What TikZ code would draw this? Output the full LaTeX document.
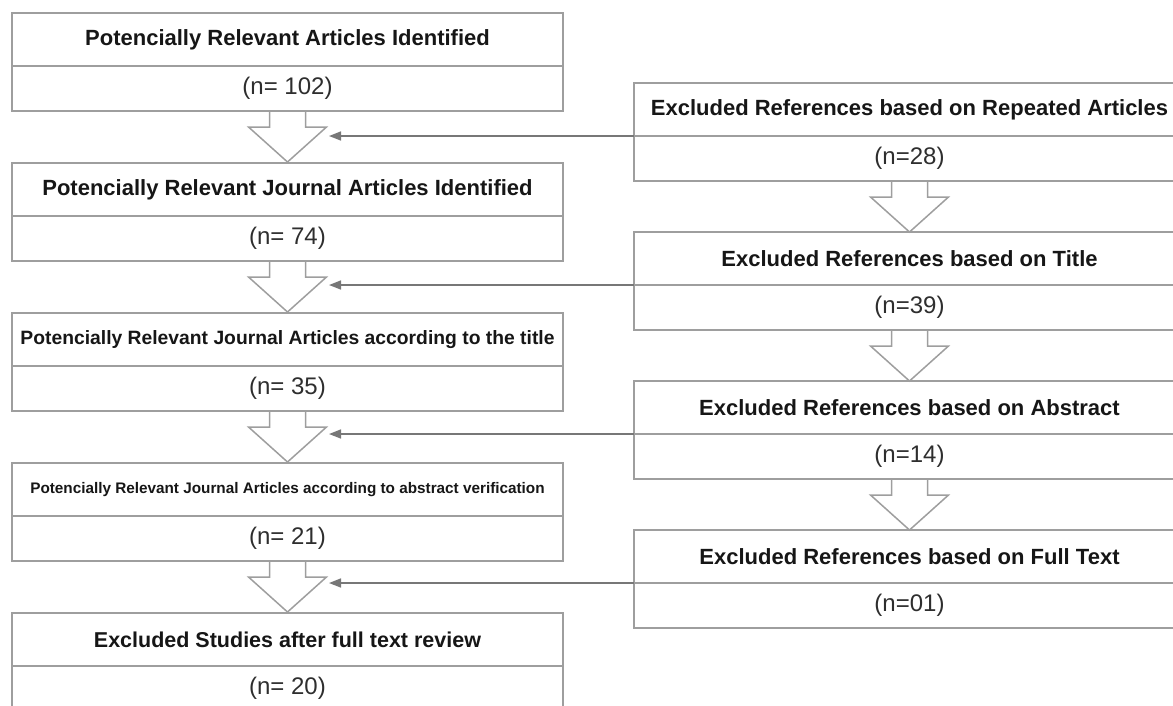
\documentclass[tikz,border=0pt]{standalone}
\usepackage{fontspec}
\setmainfont{Liberation Sans}
\usetikzlibrary{positioning,arrows.meta}
\definecolor{boxgray}{HTML}{9E9E9E}
\definecolor{linegray}{HTML}{777777}
\definecolor{numgray}{HTML}{2E2E2E}
\definecolor{headblack}{HTML}{161616}
\tikzset{
  head/.style={draw=boxgray, line width=1.6pt, outer sep=0pt, inner sep=0pt,
    minimum width=551pt, minimum height=53pt, text=headblack,
    font=\bfseries\fontsize{22}{26}\selectfont},
  count/.style={draw=boxgray, line width=1.6pt, outer sep=0pt, inner sep=0pt,
    minimum width=551pt, minimum height=45pt, text=numgray,
    font=\fontsize{24}{28}\selectfont},
  feed/.style={draw=linegray, line width=1.5pt, -{Triangle[length=12pt,width=9pt]}},
  downarrow/.pic={
    \draw[boxgray, line width=1.5pt, line join=miter]
      (-18,0) -- (-18,16) -- (-39,16) -- (0,51) -- (39,16) -- (18,16) -- (18,0);
  }
}

\begin{document}
\begin{tikzpicture}[x=1pt,y=-1pt]
   \useasboundingbox (0,0) rectangle (1173,705);
   \clip (0,0) rectangle (1173,705);

   \node[head] (l1) at (287.5,39.5) {Potencially Relevant Articles Identified};
   \node[count, below=0pt of l1] (ln1) {(n= 102)};
   \node[head, below=52pt of ln1] (l2) {Potencially Relevant Journal Articles Identified};
   \node[count, below=0pt of l2] (ln2) {(n= 74)};
   \node[head, below=52pt of ln2, font=\bfseries\fontsize{19.3}{23}\selectfont] (l3)
      {Potencially Relevant Journal Articles according to the title};
   \node[count, below=0pt of l3] (ln3) {(n= 35)};
   \node[head, below=52pt of ln3, font=\bfseries\fontsize{15.3}{19}\selectfont] (l4)
      {Potencially Relevant Journal Articles according to abstract verification};
   \node[count, below=0pt of l4] (ln4) {(n= 21)};
   \node[head, below=52pt of ln4, font=\bfseries\fontsize{21.5}{26}\selectfont] (l5)
      {Excluded Studies after full text review};
   \node[count, below=0pt of l5] (ln5) {(n= 20)};

   \node[head] (r1) at (909.5,109.5) {Excluded References based on Repeated Articles};
   \node[count, below=0pt of r1] (rn1) {(n=28)};
   \node[head, below=51pt of rn1] (r2) {Excluded References based on Title};
   \node[count, below=0pt of r2] (rn2) {(n=39)};
   \node[head, below=51pt of rn2] (r3) {Excluded References based on Abstract};
   \node[count, below=0pt of r3] (rn3) {(n=14)};
   \node[head, below=51pt of rn3] (r4) {Excluded References based on Full Text};
   \node[count, below=0pt of r4] (rn4) {(n=01)};

   \pic at (ln1.south) {downarrow};
   \pic at (ln2.south) {downarrow};
   \pic at (ln3.south) {downarrow};
   \pic at (ln4.south) {downarrow};
   \pic at (rn1.south) {downarrow};
   \pic at (rn2.south) {downarrow};
   \pic at (rn3.south) {downarrow};

   \coordinate (tipx) at (329,0);
   \draw[feed] (rn1.north west) -- (rn1.north west -| tipx);
   \draw[feed] (rn2.north west) -- (rn2.north west -| tipx);
   \draw[feed] (rn3.north west) -- (rn3.north west -| tipx);
   \draw[feed] (rn4.north west) -- (rn4.north west -| tipx);
\end{tikzpicture}
\end{document}
